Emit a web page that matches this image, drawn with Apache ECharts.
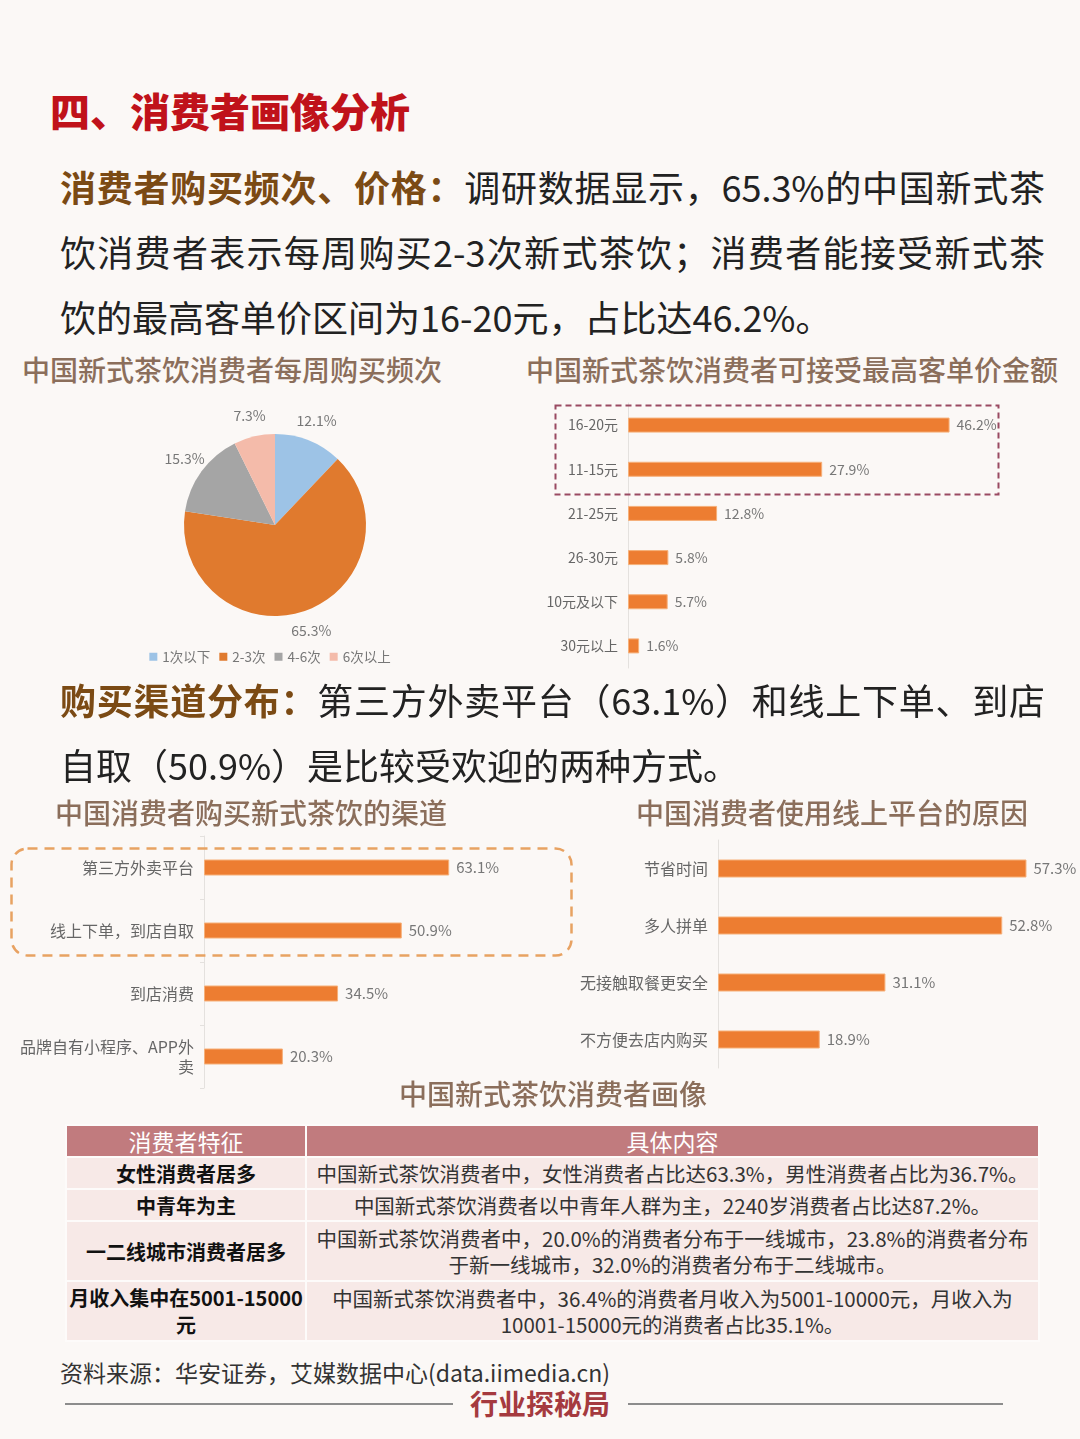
<!DOCTYPE html>
<html>
<head>
<meta charset="utf-8">
<script src="https://cdn.jsdelivr.net/npm/echarts@6/dist/echarts.min.js"></script>
<style>
  html, body { margin: 0; padding: 0; }
  body { width: 1080px; height: 1439px; background: #FBF8F6; position: relative; overflow: hidden;
         font-family: "Noto Sans CJK SC", "Noto Sans", sans-serif; }
  .abs { position: absolute; }
  #h1 { left: 50px; top: 82px; font-size: 40px; line-height: 56px; font-weight: 900; color: #C0121A; }
  .para { left: 60px; width: 985px; font-size: 36px; line-height: 65px; color: #222; font-weight: 400; }
  .para .ln { display: block; white-space: nowrap; }
  .para .j { text-align: justify; text-align-last: justify; white-space: normal; }
  .para b { color: #7B4A14; font-weight: 700; }
  .ctitle { font-size: 28px; line-height: 36px; color: #8B6E5B; font-weight: 500; white-space: nowrap; }
  #ttitle { left: 553px; transform: translateX(-50%); top: 1075px; font-size: 28px; line-height: 36px; color: #8B6E5B; font-weight: 500; white-space: nowrap; }
  table { position: absolute; left: 65px; top: 1124px; width: 975px; border-collapse: collapse; table-layout: fixed; }
  td { border: 2px solid #FDFBFA; text-align: center; padding: 0 4px; }
  tr.hd td { background: #C17B7E; color: #fff; font-size: 23px; height: 30px; line-height: 30px; }
  tr.bd td { background: #F7E9E7; }
  tr.bd td.f { font-weight: 700; color: #111; font-size: 20px; line-height: 27px; padding: 0; }
  tr.bd td.c { color: #333; font-size: 20.5px; line-height: 26px; }
  .nw { white-space: nowrap; }
  #src { left: 60px; top: 1356px; font-size: 23px; line-height: 32px; color: #333; white-space: nowrap; }
  .rule { height: 2px; background: #8C8C8C; top: 1403px; }
  #brand { left: 540px; transform: translateX(-50%); top: 1384px; font-size: 28px; line-height: 38px; font-weight: 700; color: #A53A3F; }
</style>
</head>
<body>
<div id="h1" class="abs">四、消费者画像分析</div>
<div class="abs para" style="top:154px;">
  <span class="ln j"><b>消费者购买频次、价格：</b>调研数据显示，65.3%的中国新式茶</span>
  <span class="ln j">饮消费者表示每周购买2-3次新式茶饮；消费者能接受新式茶</span>
  <span class="ln">饮的最高客单价区间为16-20元，占比达46.2%。</span>
</div>
<div class="abs ctitle" style="left:22px; top:351px;">中国新式茶饮消费者每周购买频次</div>
<div class="abs ctitle" style="left:526px; top:351px;">中国新式茶饮消费者可接受最高客单价金额</div>
<div id="pie" class="abs" style="left:0; top:390px; width:540px; height:290px;"></div>
<div id="price" class="abs" style="left:520px; top:390px; width:560px; height:290px;"></div>

<div class="abs para" style="top:667px;">
  <span class="ln j"><b>购买渠道分布：</b>第三方外卖平台（63.1%）和线上下单、到店</span>
  <span class="ln">自取（50.9%）是比较受欢迎的两种方式。</span>
</div>
<div class="abs ctitle" style="left:55px; top:794px;">中国消费者购买新式茶饮的渠道</div>
<div class="abs ctitle" style="left:636px; top:794px;">中国消费者使用线上平台的原因</div>
<div id="channel" class="abs" style="left:0; top:830px; width:580px; height:260px;"></div>
<div id="reason" class="abs" style="left:570px; top:830px; width:510px; height:260px;"></div>

<div id="ttitle" class="abs">中国新式茶饮消费者画像</div>
<table id="tbl"></table>

<div id="src" class="abs">资料来源：华安证券，艾媒数据中心(data.iimedia.cn)</div>
<div class="abs rule" style="left:65px; width:388px;"></div>
<div class="abs rule" style="left:628px; width:375px;"></div>
<div id="brand" class="abs">行业探秘局</div>

<script>
// ---------- data ----------
const freqCats = ['1次以下', '2-3次', '4-6次', '6次以上'];
const freqVals = [12.1, 65.3, 15.3, 7.3];

const priceCats = ['16-20元', '11-15元', '21-25元', '26-30元', '10元及以下', '30元以上'];
const priceVals = [46.2, 27.9, 12.8, 5.8, 5.7, 1.6];

const channelCats = ['第三方外卖平台', '线上下单，到店自取', '到店消费', '品牌自有小程序、APP外卖'];
const channelVals = [63.1, 50.9, 34.5, 20.3];

const reasonCats = ['节省时间', '多人拼单', '无接触取餐更安全', '不方便去店内购买'];
const reasonVals = [57.3, 52.8, 31.1, 18.9];

const tableHeader = ['消费者特征', '具体内容'];
const tableFeatures = ['女性消费者居多', '中青年为主', '一二线城市消费者居多', '月收入集中在5001-15000元'];
const tableContents = [
  '中国新式茶饮消费者中，女性消费者占比达63.3%，男性消费者占比为36.7%。',
  '中国新式茶饮消费者以中青年人群为主，2240岁消费者占比达87.2%。',
  '中国新式茶饮消费者中，20.0%的消费者分布于一线城市，23.8%的消费者分布于新一线城市，32.0%的消费者分布于二线城市。',
  '中国新式茶饮消费者中，36.4%的消费者月收入为5001-10000元，月收入为10001-15000元的消费者占比35.1%。'
];

// ---------- table ----------
(function () {
  const t = document.getElementById('tbl');
  const keep = s => s.replace(/(\d[\d.\-]*\d%?)/g, '<span class="nw">$1</span>');
  let html = '<colgroup><col style="width:240px"><col></colgroup>';
  html += '<tr class="hd"><td>' + tableHeader[0] + '</td><td>' + tableHeader[1] + '</td></tr>';
  const heights = [32, 32, 60, 60];
  for (let i = 0; i < tableFeatures.length; i++) {
    html += '<tr class="bd" style="height:' + heights[i] + 'px"><td class="f">' + keep(tableFeatures[i]) +
            '</td><td class="c">' + tableContents[i] + '</td></tr>';
  }
  t.innerHTML = html;
})();

const FONT = '"Noto Sans CJK SC", "Noto Sans", sans-serif';
const BAR = '#ED7D31';

// ---------- pie ----------
const pieColors = ['#9DC3E6', '#E07A2E', '#A5A5A5', '#F4BBAA'];
const pieData = freqCats.map((c, i) => ({ name: c, value: freqVals[i] }));
echarts.init(document.getElementById('pie')).setOption({
  animation: false,
  textStyle: { fontFamily: FONT },
  color: pieColors,
  legend: {
    data: freqCats, top: 255, left: 'center', icon: 'rect', itemWidth: 8, itemHeight: 8, itemGap: 9,
    textStyle: { color: '#777', fontSize: 13.5, fontFamily: FONT }
  },
  series: [{
    type: 'pie', center: [275, 135], radius: 91, startAngle: 90, clockwise: true,
    data: pieData,
    label: { show: false },
    labelLine: { show: false },
    itemStyle: { borderWidth: 0 }
  }, {
    // label ring: same data, transparent, labels centred just outside the pie
    type: 'pie', center: [275, 135], radius: [98, 120], startAngle: 90, clockwise: true,
    data: pieData, silent: true,
    itemStyle: { color: 'rgba(0,0,0,0)' },
    label: { show: true, position: 'inside', formatter: '{c}%', color: '#777', fontSize: 14 },
    labelLine: { show: false },
    emphasis: { disabled: true }
  }]
});

function barOption(cats, vals, grid, max, barWidth, catSize, valSize, extra) {
  return Object.assign({
    animation: false,
    textStyle: { fontFamily: FONT },
    grid: grid,
    xAxis: { type: 'value', min: 0, max: max, show: false },
    yAxis: {
      type: 'category', data: cats, inverse: true,
      axisLine: { show: true, lineStyle: { color: '#E4E1DE', width: 1 } },
      axisTick: { show: false },
      axisLabel: { color: '#666', fontSize: catSize, margin: 10 }
    },
    series: [{
      type: 'bar', data: vals, barWidth: barWidth,
      itemStyle: { color: BAR, borderColor: '#F6B079', borderWidth: 1 },
      label: { show: true, position: 'right', formatter: '{c}%', color: '#777', fontSize: valSize, distance: 7 }
    }]
  }, extra || {});
}

// ---------- price ----------
echarts.init(document.getElementById('price')).setOption(barOption(
  priceCats, priceVals, { left: 108, top: 13, width: 348, height: 265 }, 50, 15, 14, 14,
  {
    graphic: [{
      type: 'rect', left: 33, top: 13, z: 10,
      shape: { width: 443, height: 89 },
      style: { fill: 'none', stroke: '#9A4A62', lineWidth: 2, lineDash: [6, 4] }
    }]
  }
));

// ---------- channel ----------
const chOpt = barOption(
  channelCats, channelVals, { left: 204, top: 6, width: 272, height: 252 }, 70, 16, 16, 15,
  {
    graphic: [{
      type: 'rect', left: 9, top: 16, z: 10,
      shape: { width: 560, height: 107, r: 16 },
      style: { fill: 'none', stroke: '#E8A262', lineWidth: 2.5, lineDash: [10, 7] }
    }]
  }
);
chOpt.yAxis.axisLabel.width = 176;
chOpt.yAxis.axisLabel.overflow = 'break';
chOpt.yAxis.axisLabel.lineHeight = 20;
chOpt.yAxis.axisTick = { show: true, length: 4, lineStyle: { color: '#E4E1DE' } };
echarts.init(document.getElementById('channel')).setOption(chOpt);

// ---------- reason ----------
echarts.init(document.getElementById('reason')).setOption(barOption(
  reasonCats, reasonVals, { left: 148, top: 10, width: 323, height: 228 }, 60, 18, 16, 15
));
</script>
</body>
</html>
